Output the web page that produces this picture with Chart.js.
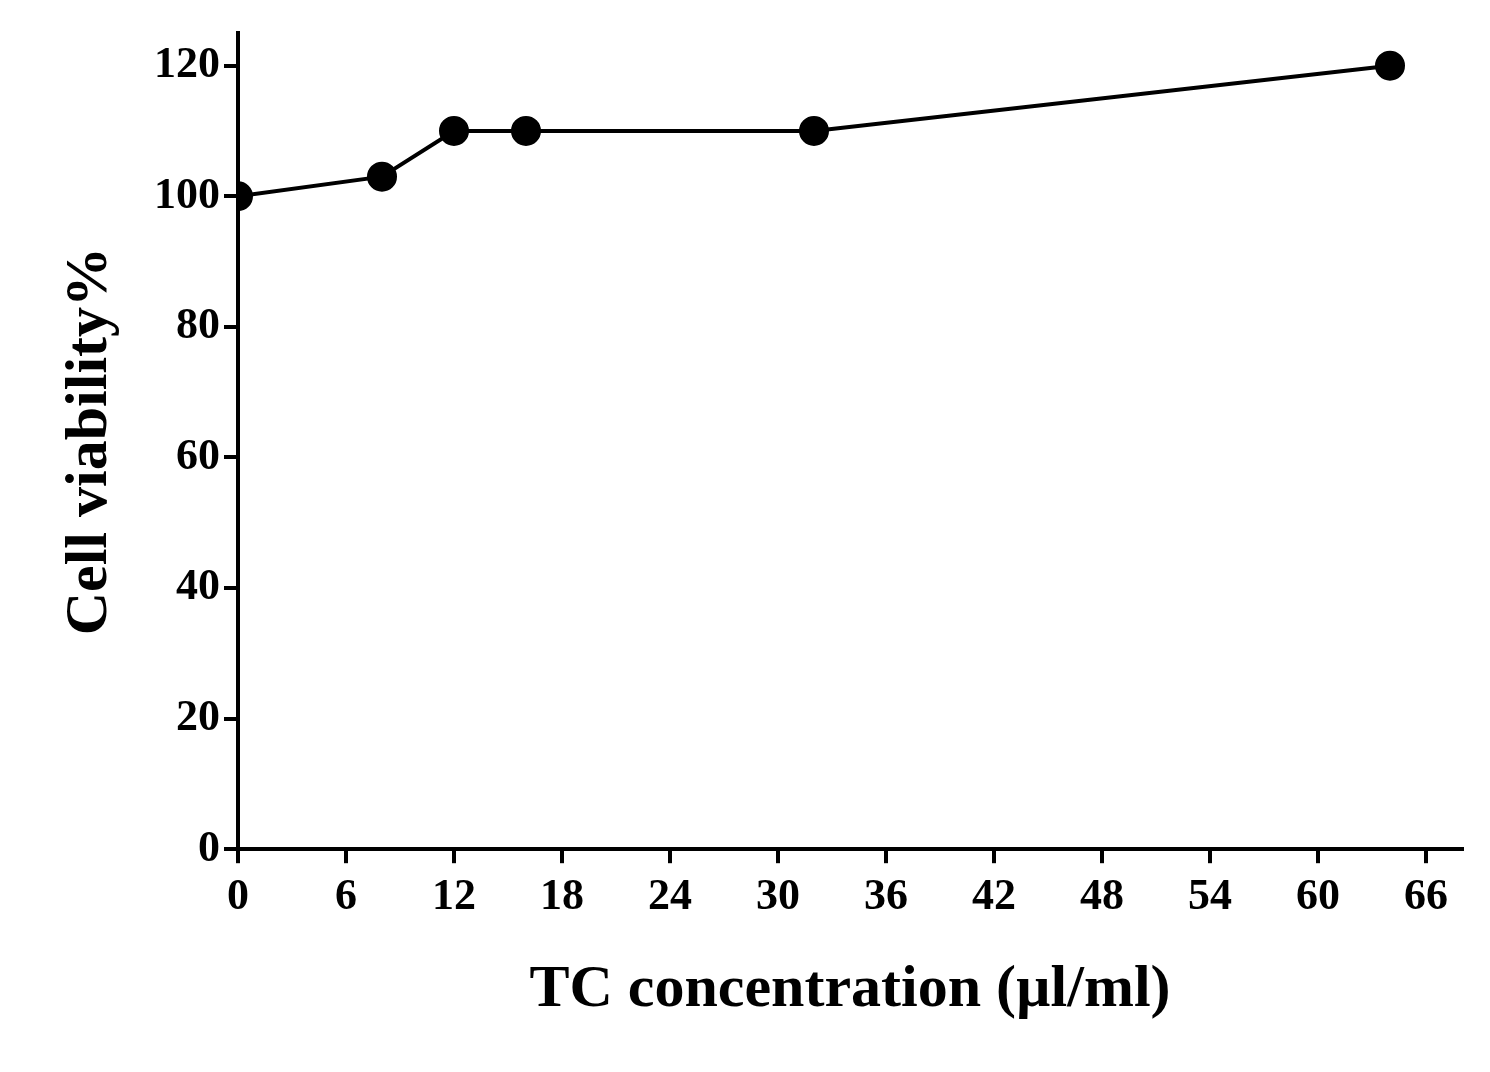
<!DOCTYPE html>
<html>
<head>
<script src="https://cdn.jsdelivr.net/npm/chart.js@4"></script>
<style>body{margin:0;background:#fff}</style>
</head>
<body>
<canvas id="c" width="1490" height="1072"></canvas>
<script>
// data
const concentrations = [0, 8, 12, 16, 32, 64];
const viability = [100, 103, 110, 110, 110, 120];
const xTicks = [0, 6, 12, 18, 24, 30, 36, 42, 48, 54, 60, 66];
const yTicks = [0, 20, 40, 60, 80, 100, 120];

const font = { family: 'Liberation Serif', weight: 'bold' };

new Chart(document.getElementById('c'), {
  type: 'scatter',
  data: {
    datasets: [{
      data: concentrations.map((x, i) => ({ x, y: viability[i] })),
      showLine: true,
      borderColor: '#000',
      backgroundColor: '#000',
      borderWidth: 4,
      pointRadius: 13,
      pointHoverRadius: 13,
    }],
  },
  options: {
    responsive: false,
    animation: false,
    layout: { padding: { top: 33, right: 28, left: 50, bottom: 42 } },
    plugins: { legend: { display: false }, tooltip: { enabled: false } },
    scales: {
      x: {
        type: 'linear', min: 0, max: 68,
        afterBuildTicks: (s) => { s.ticks = xTicks.map(v => ({ value: v })); },
        border: { color: '#000', width: 4 },
        grid: { drawOnChartArea: false, color: '#000', lineWidth: 4, tickLength: 14 },
        ticks: { color: '#000', font: { ...font, size: 44 }, padding: 8, maxRotation: 0 },
        title: { display: true, text: 'TC concentration (µl/ml)', color: '#000', font: { ...font, size: 60 }, padding: { top: 22 } },
      },
      y: {
        min: 0, max: 125,
        afterBuildTicks: (s) => { s.ticks = yTicks.map(v => ({ value: v })); },
        border: { color: '#000', width: 4 },
        grid: { drawOnChartArea: false, color: '#000', lineWidth: 4, tickLength: 14 },
        ticks: { color: '#000', font: { ...font, size: 44 }, padding: 4 },
        title: { display: true, text: 'Cell viability%', color: '#000', font: { ...font, size: 60 }, padding: { bottom: 24 } },
      },
    },
  },
});
</script>
</body>
</html>
